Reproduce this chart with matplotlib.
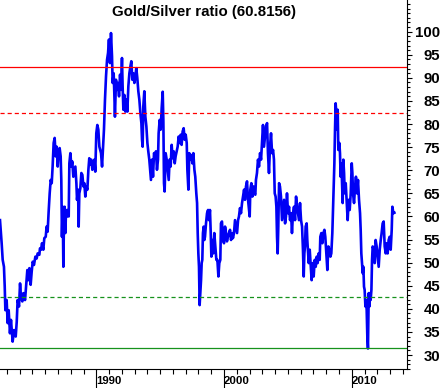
import matplotlib
matplotlib.use("Agg")
import matplotlib.pyplot as plt
from matplotlib.ticker import FixedLocator, MultipleLocator

plt.rcParams['font.family'] = ['Liberation Sans', 'DejaVu Sans']

# gold/silver ratio (decimal years)
years_80s = [
    1982.46, 1982.59, 1982.67, 1982.77, 1982.83, 1982.88, 1982.98, 1983.06, 1983.14, 1983.24,
    1983.32, 1983.45, 1983.56, 1983.69, 1983.77, 1983.84, 1983.95, 1984.03, 1984.10, 1984.21,
    1984.29, 1984.42, 1984.50, 1984.60, 1984.68, 1984.76, 1984.86, 1984.94, 1985.02, 1985.12,
    1985.23, 1985.33, 1985.41, 1985.54, 1985.59, 1985.67, 1985.75, 1985.85, 1985.93, 1986.04,
    1986.11, 1986.19, 1986.27, 1986.35, 1986.43, 1986.51, 1986.58, 1986.66, 1986.74, 1986.82,
    1986.90, 1986.98, 1987.05, 1987.13, 1987.21, 1987.26, 1987.31, 1987.37, 1987.42, 1987.47,
    1987.52, 1987.58, 1987.63, 1987.71, 1987.78, 1987.84, 1987.89, 1987.97, 1988.05, 1988.12,
    1988.20, 1988.28, 1988.36, 1988.44, 1988.49, 1988.57, 1988.62, 1988.67, 1988.75, 1988.83,
    1988.91, 1988.99, 1989.06, 1989.14, 1989.22, 1989.30, 1989.38, 1989.45, 1989.53, 1989.61,
    1989.69, 1989.77, 1989.85, 1989.92, 1990.00, 1990.08, 1990.16, 1990.24,
]
ratio_80s = [
    59.2, 54.2, 50.6, 49.1, 44.8, 39.7, 41.9, 36.9, 39.7, 34.7,
    37.6, 32.9, 35.4, 34.0, 37.2, 41.9, 40.5, 45.5, 42.6, 41.6,
    43.4, 41.9, 44.8, 48.4, 46.2, 48.8, 45.2, 48.0, 50.2, 49.5,
    51.3, 50.9, 52.0, 51.7, 53.1, 52.8, 54.2, 52.8, 55.3, 55.6,
    57.8, 56.7, 61.1, 65.0, 67.9, 67.2, 70.8, 75.9, 77.0, 73.0,
    75.1, 70.8, 74.1, 74.8, 73.0, 67.9, 55.6, 62.1, 49.1, 59.2,
    62.1, 56.4, 61.4, 60.0, 61.4, 60.0, 71.5, 73.7, 70.8, 71.9,
    68.6, 69.7, 70.8, 67.2, 63.6, 65.8, 57.8, 65.0, 66.1, 69.4,
    69.0, 66.5, 67.2, 64.3, 66.5, 65.8, 70.1, 72.6, 71.2, 72.3,
    70.1, 70.8, 72.3, 69.7, 78.0, 79.8, 78.8, 75.1,
]

years_90s = [
    1990.37, 1990.45, 1990.52, 1990.60, 1990.68, 1990.76, 1990.84, 1990.92, 1990.99, 1991.07,
    1991.15, 1991.23, 1991.28, 1991.36, 1991.41, 1991.46, 1991.54, 1991.62, 1991.70, 1991.78,
    1991.86, 1991.93, 1992.01, 1992.06, 1992.12, 1992.20, 1992.27, 1992.35, 1992.43, 1992.51,
    1992.59, 1992.67, 1992.74, 1992.82, 1992.90, 1992.98, 1993.06, 1993.13, 1993.21, 1993.29,
    1993.37, 1993.45, 1993.53, 1993.58, 1993.63, 1993.68, 1993.76, 1993.84, 1993.92, 1994.00,
    1994.07, 1994.15, 1994.23, 1994.28, 1994.36, 1994.44, 1994.52, 1994.60, 1994.67, 1994.75,
    1994.83, 1994.88, 1994.96, 1995.04, 1995.12, 1995.20, 1995.25, 1995.30, 1995.35, 1995.43,
    1995.51, 1995.59, 1995.67, 1995.74, 1995.82, 1995.90, 1995.98, 1996.06, 1996.14, 1996.21,
    1996.29, 1996.37, 1996.45, 1996.53, 1996.61, 1996.68, 1996.76, 1996.84, 1996.92, 1997.00,
    1997.08, 1997.13, 1997.21, 1997.28, 1997.36, 1997.44, 1997.52, 1997.60, 1997.68, 1997.75,
    1997.83, 1997.89, 1997.94, 1997.99, 1998.04, 1998.09,
]
ratio_90s = [
    73.7, 70.8, 74.4, 78.8, 85.3, 90.3, 93.9, 95.4, 98.3, 93.2,
    99.7, 94.7, 88.9, 91.0, 86.7, 81.6, 89.6, 87.4, 88.9, 86.0,
    90.7, 87.4, 94.3, 88.2, 83.1, 86.3, 82.7, 85.3, 82.7, 88.2,
    91.0, 92.5, 93.6, 89.6, 91.0, 88.9, 90.3, 92.1, 90.0, 87.1,
    85.3, 82.4, 80.2, 76.6, 75.1, 83.8, 87.1, 81.6, 79.5, 75.9,
    74.1, 72.3, 69.4, 67.9, 72.3, 68.6, 73.7, 73.0, 74.1, 70.1,
    72.3, 78.0, 80.9, 78.8, 83.5, 87.0, 80.9, 67.2, 65.4, 73.7,
    72.3, 70.1, 67.9, 72.3, 70.8, 75.5, 72.6, 74.1, 71.5, 73.0,
    74.1, 75.1, 77.3, 75.9, 77.7, 75.5, 78.4, 79.1, 76.6, 77.7,
    75.9, 70.1, 65.8, 73.7, 72.3, 73.3, 71.5, 73.7, 70.1, 68.6,
    65.0, 62.9, 56.4, 52.0, 49.1, 40.8,
]

years_00s = [
    1998.20, 1998.25, 1998.30, 1998.35, 1998.41, 1998.46, 1998.51, 1998.59, 1998.67, 1998.75,
    1998.82, 1998.90, 1998.96, 1999.01, 1999.09, 1999.16, 1999.24, 1999.32, 1999.40, 1999.48,
    1999.56, 1999.63, 1999.71, 1999.76, 1999.84, 1999.92, 2000.00, 2000.08, 2000.16, 2000.23,
    2000.31, 2000.39, 2000.47, 2000.55, 2000.63, 2000.70, 2000.78, 2000.86, 2000.94, 2001.02,
    2001.10, 2001.17, 2001.25, 2001.33, 2001.41, 2001.49, 2001.57, 2001.64, 2001.72, 2001.80,
    2001.88, 2001.96, 2002.01, 2002.06, 2002.14, 2002.22, 2002.30, 2002.37, 2002.45, 2002.50,
    2002.58, 2002.66, 2002.74, 2002.82, 2002.90, 2002.97, 2003.05, 2003.13, 2003.21, 2003.29,
    2003.37, 2003.44, 2003.52, 2003.60, 2003.68, 2003.76, 2003.84, 2003.91, 2003.97, 2004.04,
    2004.10, 2004.15, 2004.20, 2004.25, 2004.31, 2004.38, 2004.46, 2004.54, 2004.62, 2004.70,
    2004.78, 2004.85, 2004.93, 2005.01, 2005.09, 2005.17, 2005.25, 2005.32, 2005.40, 2005.48,
    2005.56, 2005.64, 2005.72, 2005.79, 2005.87,
]
ratio_00s = [
    46.2, 49.9, 50.6, 56.4, 57.8, 54.9, 55.6, 58.5, 60.7, 61.4,
    59.2, 61.4, 56.4, 51.3, 54.9, 52.0, 56.4, 53.5, 50.6, 50.6,
    47.0, 49.9, 50.6, 58.5, 58.9, 54.9, 54.2, 57.8, 56.4, 54.6,
    55.6, 56.4, 57.1, 54.9, 56.4, 55.3, 56.4, 59.2, 57.8, 56.4,
    59.2, 60.0, 61.8, 60.7, 62.9, 64.3, 65.8, 63.6, 66.5, 67.6,
    63.6, 61.4, 60.0, 65.8, 67.2, 64.3, 66.5, 65.0, 64.7, 67.9,
    69.4, 72.3, 70.8, 73.7, 72.3, 75.9, 79.8, 75.1, 77.3, 79.5,
    80.2, 73.7, 69.4, 75.1, 78.0, 73.7, 74.4, 72.3, 65.0, 64.3,
    62.1, 55.6, 52.0, 57.8, 67.2, 66.5, 64.3, 59.2, 61.4, 63.6,
    58.5, 60.0, 65.0, 60.7, 62.1, 59.2, 60.7, 56.4, 60.7, 62.1,
    59.2, 64.3, 62.1, 60.7, 59.2,
]

years_10s = [
    2005.95, 2006.03, 2006.11, 2006.18, 2006.24, 2006.29, 2006.34, 2006.39, 2006.47, 2006.52,
    2006.58, 2006.63, 2006.71, 2006.79, 2006.86, 2006.94, 2007.02, 2007.10, 2007.18, 2007.26,
    2007.33, 2007.41, 2007.49, 2007.54, 2007.62, 2007.70, 2007.78, 2007.86, 2007.93, 2008.01,
    2008.09, 2008.17, 2008.25, 2008.33, 2008.40, 2008.48, 2008.56, 2008.64, 2008.69, 2008.74,
    2008.79, 2008.85, 2008.90, 2008.95, 2009.03, 2009.08, 2009.13, 2009.19, 2009.24, 2009.29,
    2009.34, 2009.40, 2009.45, 2009.53, 2009.60, 2009.68, 2009.76, 2009.84, 2009.92, 2010.00,
    2010.05, 2010.10, 2010.18, 2010.26, 2010.33, 2010.41, 2010.49, 2010.57, 2010.65, 2010.70,
    2010.75, 2010.80, 2010.86, 2010.91, 2010.96, 2011.01, 2011.07, 2011.12, 2011.17, 2011.22,
    2011.27, 2011.33, 2011.38, 2011.43, 2011.48, 2011.54, 2011.59, 2011.64, 2011.72, 2011.80,
    2011.87, 2011.95, 2012.03, 2012.11, 2012.19, 2012.27, 2012.34, 2012.42, 2012.50, 2012.58,
    2012.66, 2012.74, 2012.81, 2012.89, 2012.97, 2013.05, 2013.13, 2013.18, 2013.26, 2013.34,
]
ratio_10s = [
    62.9, 59.2, 57.8, 52.8, 47.0, 52.0, 53.5, 57.8, 58.5, 54.9,
    52.0, 49.9, 52.8, 49.1, 46.2, 49.9, 47.0, 50.6, 49.1, 51.3,
    49.9, 52.0, 50.6, 55.6, 56.4, 54.2, 56.4, 57.1, 55.6, 52.0,
    48.4, 53.5, 52.8, 51.3, 52.0, 56.4, 63.6, 71.5, 78.8, 84.5,
    82.4, 78.8, 83.1, 74.4, 75.9, 73.7, 68.6, 71.5, 67.2, 62.9,
    72.3, 69.4, 65.0, 67.2, 63.6, 59.2, 63.6, 61.4, 65.0, 71.5,
    69.4, 65.0, 62.9, 66.5, 68.6, 65.0, 67.9, 63.6, 60.7, 57.1,
    52.0, 49.9, 47.7, 49.1, 44.8, 44.1, 40.5, 41.9, 39.7, 34.0,
    31.4, 43.4, 40.5, 43.4, 41.9, 44.1, 50.6, 53.5, 52.8, 49.9,
    54.9, 53.5, 51.3, 49.1, 52.8, 54.9, 56.4, 58.5, 58.9, 53.5,
    52.0, 54.2, 52.0, 54.9, 55.6, 52.8, 57.1, 62.1, 60.7, 60.8,
]

years = years_80s + years_90s + years_00s + years_10s
ratio = ratio_80s + ratio_90s + ratio_00s + ratio_10s

last_value = "60.8156"
upper_lines = [92.3, 82.5]     # red: solid, dashed
lower_lines = [42.5, 31.6]     # green: dashed, solid
y_major = list(range(30, 101, 5))
x_major = [1990, 2000, 2010]

fig = plt.figure(figsize=(4.43, 3.88), dpi=100)
ax = fig.add_axes([0, 19 / 388, 407.3 / 443, 369 / 388])

ax.plot(years, ratio, color='#0000f5', lw=1.9, zorder=2)

red, green = '#ff0000', '#16921c'
ax.axhline(upper_lines[0], color=red, lw=0.9, zorder=3)
ax.axhline(upper_lines[1], color=red, lw=0.9, ls=(0, (3.3, 2.4)), zorder=3)
ax.axhline(lower_lines[0], color=green, lw=0.9, ls=(0, (3.3, 2.4)), zorder=3)
ax.axhline(lower_lines[1], color=green, lw=0.9, zorder=3)

ax.set_xlim(1982.46, 2014.35)
ax.set_ylim(26.97, 106.86)

for s in ['left', 'top']:
    ax.spines[s].set_visible(False)
for s in ['right', 'bottom']:
    ax.spines[s].set_linewidth(0.8)
    ax.spines[s].set_color('black')

# y axis on the right
ax.yaxis.tick_right()
ax.yaxis.set_major_locator(FixedLocator(y_major))
ax.yaxis.set_minor_locator(MultipleLocator(1))
ax.tick_params(axis='y', which='major', length=3.3, width=0.8, pad=20.3,
               labelsize=10.8)
ax.tick_params(axis='y', which='minor', length=2, width=0.8)
for lab in ax.get_yticklabels():
    lab.set_ha('right')
    lab.set_fontweight('bold')

# x axis
ax.xaxis.set_major_locator(FixedLocator(x_major))
ax.xaxis.set_minor_locator(MultipleLocator(1))
ax.tick_params(axis='x', which='major', length=13.7, width=0.8, pad=-8.7,
               labelsize=8.2)
ax.tick_params(axis='x', which='minor', length=3.6, width=0.8)
for lab in ax.get_xticklabels():
    lab.set_ha('left')
    lab.set_fontweight('bold')

ax.text(0.5, 1 - 12 / 369, 'Gold/Silver ratio (' + last_value + ')',
        transform=ax.transAxes, ha='center', va='center',
        fontsize=10.8, fontweight='bold')

fig.savefig('out.png', dpi=100)
